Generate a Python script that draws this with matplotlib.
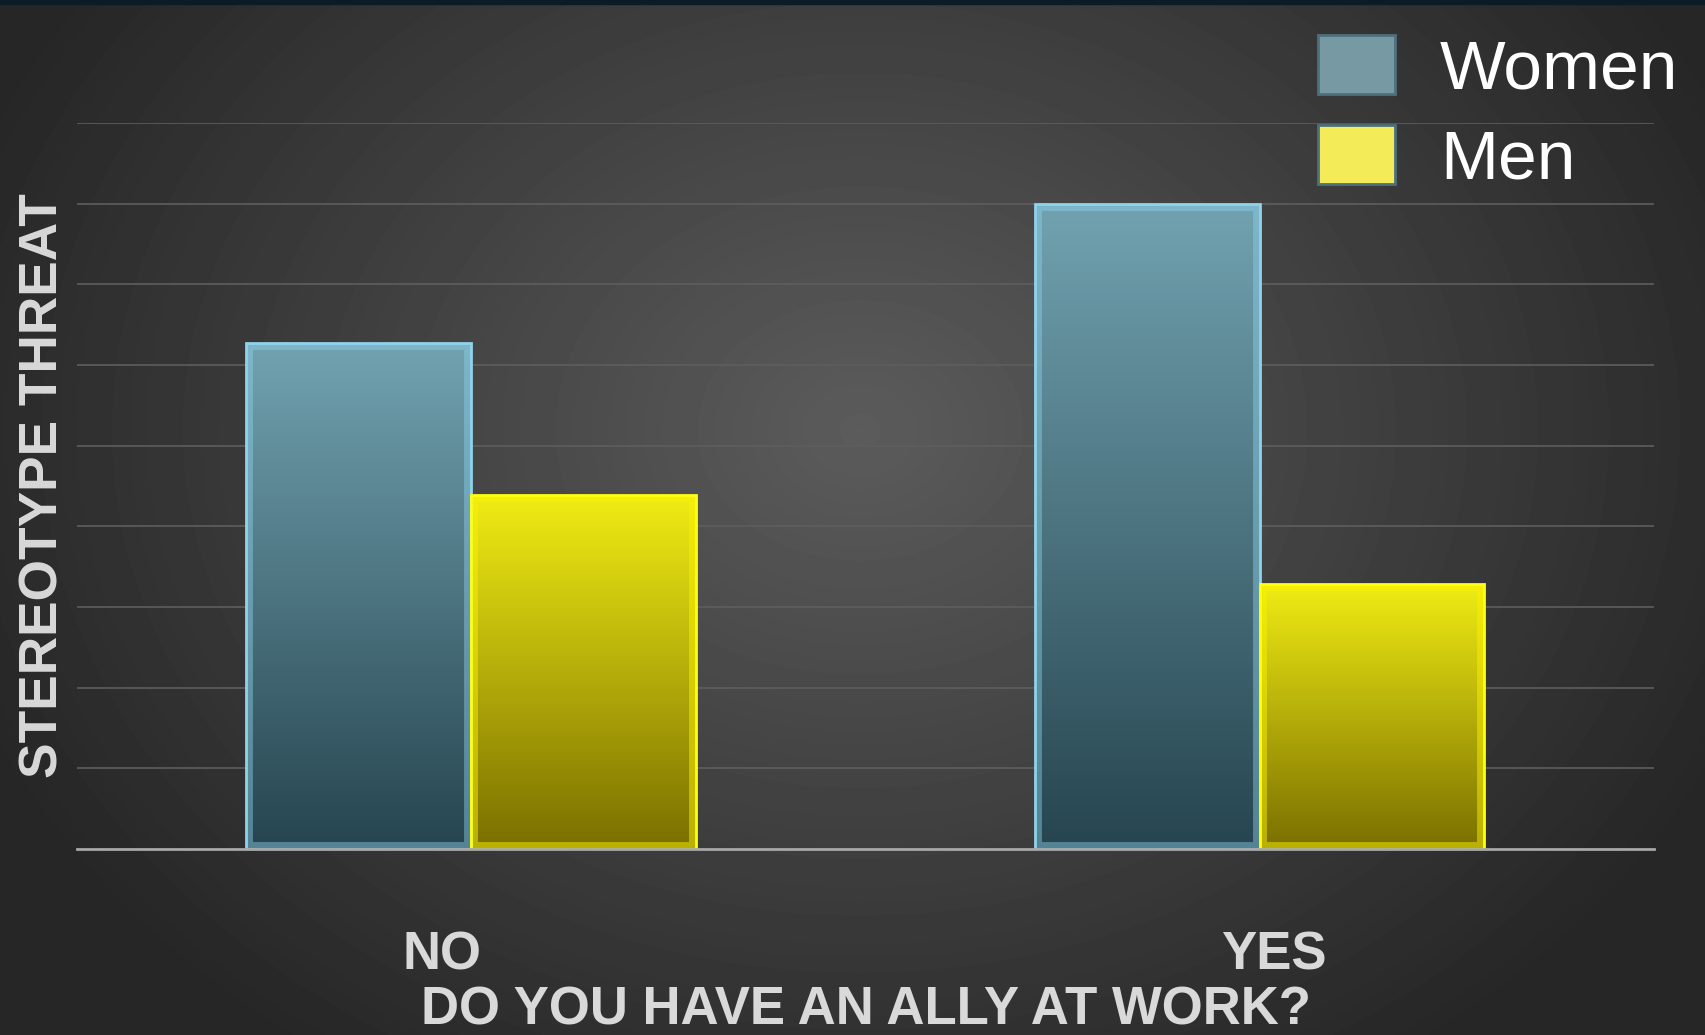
import numpy as np
import matplotlib
matplotlib.use("Agg")
import matplotlib.pyplot as plt
from matplotlib.colors import LinearSegmentedColormap
from matplotlib.patches import Patch
from matplotlib.transforms import ScaledTranslation

# data
categories = ["NO", "YES"]
women = [6.27, 8.0]
men = [4.39, 3.28]
series_names = ["Women", "Men"]

plt.rcParams['font.family'] = ['Liberation Sans', 'DejaVu Sans']

fig = plt.figure(figsize=(17.06, 10.35), dpi=100)

# background: radial grey gradient
bg = fig.add_axes([0, 0, 1, 1], zorder=0)
yy, xx = np.mgrid[0:1035, 0:1706]
r = np.sqrt(((xx - 860) / 1000.0) ** 2 + ((yy - 430) / 800.0) ** 2)
shade = np.clip(0.36 - 0.22 * r, 0.15, 0.36)
bg.imshow(shade, cmap='gray', vmin=0, vmax=1, aspect='auto', interpolation='bilinear')
bg.axhspan(-0.5, 3, color='#0c1c26')
bg.set_axis_off()

ax = fig.add_axes([0.0451, 0.1797, 0.9244, 0.7015], zorder=1)
ax.patch.set_visible(False)

x = np.arange(len(categories))
w = 0.285
# bevel bands (clipped inside each bar) and thin outer outline
bev_w = ax.bar(x - w / 2, women, w, facecolor='none', edgecolor=(0.55, 0.82, 0.92, 0.45),
               linewidth=10, zorder=3)
bev_m = ax.bar(x + w / 2, men, w, facecolor='none', edgecolor=(0.98, 0.95, 0.0, 0.5),
               linewidth=10, zorder=3)
for b in list(bev_w) + list(bev_m):
    b.set_clip_path(b)
bars_w = ax.bar(x - w / 2, women, w, facecolor='none', edgecolor='#8fd3ea', linewidth=2, zorder=4)
bars_m = ax.bar(x + w / 2, men, w, facecolor='none', edgecolor='#ffff10', linewidth=2, zorder=4)


def fill_gradient(rect, top, bottom):
    cmap = LinearSegmentedColormap.from_list('g', [bottom, top])
    grad = np.linspace(0, 1, 256).reshape(-1, 1)
    x0, y0 = rect.get_x(), rect.get_y()
    im = ax.imshow(grad, cmap=cmap, origin='lower', aspect='auto', zorder=2,
                   extent=(x0, x0 + rect.get_width(), y0, y0 + rect.get_height()))
    im.set_clip_path(rect)


for b in bars_w:
    fill_gradient(b, '#72a2b0', '#264550')
for b in bars_m:
    fill_gradient(b, '#f0ec14', '#7a6f00')

ax.set_xlim(-0.5, 1.5)
ax.set_ylim(0, 9)
ax.set_yticks(np.arange(1, 10))
ax.yaxis.grid(True, color='#5e5e5e', linewidth=1.2, zorder=1)
ax.set_axisbelow(True)
ax.tick_params(axis='y', left=False, labelleft=False)
for s in ['top', 'right', 'left']:
    ax.spines[s].set_visible(False)
ax.spines['bottom'].set_color('#a8a8a8')
ax.spines['bottom'].set_linewidth(2)
ax.spines['bottom'].set_zorder(5)

ax.set_xticks(x)
ax.set_xticklabels(categories, fontsize=38, fontweight='bold', color='#d9d9d9')
ax.tick_params(axis='x', length=0, pad=59)
offsets = [-29, 14]
for lab, dx in zip(ax.get_xticklabels(), offsets):
    lab.set_transform(lab.get_transform() + ScaledTranslation(dx / 100, 0, fig.dpi_scale_trans))

ax.set_xlabel("DO YOU HAVE AN ALLY AT WORK?", fontsize=38, fontweight='bold',
              color='#d9d9d9', labelpad=3)
ax.set_ylabel("STEREOTYPE THREAT", fontsize=38.3, fontweight='bold', color='#d9d9d9', labelpad=6)

handles = [Patch(facecolor='#7699a4', edgecolor='#4e707c', linewidth=2),
           Patch(facecolor='#f3ec58', edgecolor='#4e707c', linewidth=2)]
leg = fig.legend(handles, series_names, loc='upper right', bbox_to_anchor=(1.0, 0.993),
                 borderaxespad=0, fontsize=50, frameon=False, labelcolor='white',
                 handlelength=1.1, handleheight=0.92, handletextpad=0.65, labelspacing=0.33)

fig.savefig("out.png", dpi=100)
